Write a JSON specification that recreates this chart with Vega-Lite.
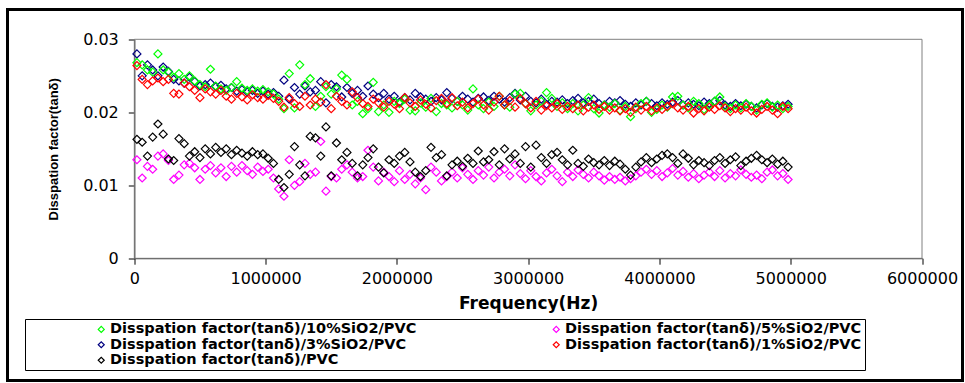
{
  "$schema": "https://vega.github.io/schema/vega-lite/v6.json",
  "width": 955,
  "height": 371,
  "autosize": {"type": "none"},
  "padding": {"left": 7.5, "top": 9.5, "right": 2.5, "bottom": 2.5},
  "background": "white",
  "config": {
    "view": {"stroke": "#000000", "strokeWidth": 3, "fill": "white"},
    "axis": {
      "zindex": 1,
      "domainColor": "#000000",
      "domainWidth": 1,
      "tickColor": "#000000",
      "tickSize": 6,
      "labelColor": "#000000",
      "labelFont": "DejaVu Sans",
      "labelFontSize": 16,
      "titleColor": "#000000",
      "grid": false
    }
  },
  "data": {
    "values": [
      {"f":20000,"s10":0.0268,"s5":0.0135,"s3":0.028,"s1":0.0264,"pvc":0.0163},
      {"f":60000,"s10":0.0265,"s5":0.011,"s3":0.025,"s1":0.0245,"pvc":0.0159},
      {"f":100000,"s10":0.0258,"s5":0.0126,"s3":0.0265,"s1":0.0238,"pvc":0.014},
      {"f":140000,"s10":0.0255,"s5":0.0122,"s3":0.0258,"s1":0.0243,"pvc":0.0166},
      {"f":180000,"s10":0.028,"s5":0.014,"s3":0.025,"s1":0.0247,"pvc":0.0184},
      {"f":220000,"s10":0.0258,"s5":0.0143,"s3":0.0262,"s1":0.0242,"pvc":0.017},
      {"f":260000,"s10":0.0255,"s5":0.0134,"s3":0.0256,"s1":0.0245,"pvc":0.0136},
      {"f":300000,"s10":0.0248,"s5":0.0108,"s3":0.0245,"s1":0.0226,"pvc":0.0134},
      {"f":340000,"s10":0.0253,"s5":0.0114,"s3":0.0243,"s1":0.0225,"pvc":0.0164},
      {"f":380000,"s10":0.0245,"s5":0.0128,"s3":0.024,"s1":0.024,"pvc":0.0157},
      {"f":420000,"s10":0.025,"s5":0.013,"s3":0.0248,"s1":0.0235,"pvc":0.014},
      {"f":460000,"s10":0.0243,"s5":0.0124,"s3":0.0242,"s1":0.023,"pvc":0.0146},
      {"f":500000,"s10":0.0238,"s5":0.0108,"s3":0.0236,"s1":0.022,"pvc":0.0138},
      {"f":540000,"s10":0.0235,"s5":0.0122,"s3":0.0238,"s1":0.0232,"pvc":0.015},
      {"f":580000,"s10":0.0259,"s5":0.0127,"s3":0.024,"s1":0.0228,"pvc":0.0143},
      {"f":620000,"s10":0.0236,"s5":0.0117,"s3":0.0235,"s1":0.0225,"pvc":0.0152},
      {"f":660000,"s10":0.0232,"s5":0.0124,"s3":0.0237,"s1":0.023,"pvc":0.0145},
      {"f":700000,"s10":0.023,"s5":0.0112,"s3":0.0232,"s1":0.0222,"pvc":0.015},
      {"f":740000,"s10":0.0234,"s5":0.0126,"s3":0.0234,"s1":0.0218,"pvc":0.0142},
      {"f":780000,"s10":0.0242,"s5":0.0118,"s3":0.0229,"s1":0.0226,"pvc":0.0148},
      {"f":820000,"s10":0.0233,"s5":0.0127,"s3":0.0231,"s1":0.0221,"pvc":0.0144},
      {"f":860000,"s10":0.023,"s5":0.012,"s3":0.0228,"s1":0.0217,"pvc":0.014},
      {"f":900000,"s10":0.0232,"s5":0.0115,"s3":0.023,"s1":0.0224,"pvc":0.0146},
      {"f":940000,"s10":0.0229,"s5":0.0125,"s3":0.0226,"s1":0.022,"pvc":0.0142},
      {"f":980000,"s10":0.0231,"s5":0.0119,"s3":0.0229,"s1":0.0218,"pvc":0.0143},
      {"f":1020000,"s10":0.0228,"s5":0.0122,"s3":0.0225,"s1":0.0223,"pvc":0.0137},
      {"f":1060000,"s10":0.0225,"s5":0.011,"s3":0.0227,"s1":0.0219,"pvc":0.013},
      {"f":1100000,"s10":0.0218,"s5":0.0095,"s3":0.0222,"s1":0.0215,"pvc":0.0108},
      {"f":1140000,"s10":0.0205,"s5":0.0085,"s3":0.0244,"s1":0.0207,"pvc":0.0097},
      {"f":1180000,"s10":0.0253,"s5":0.0135,"s3":0.0218,"s1":0.022,"pvc":0.0115},
      {"f":1220000,"s10":0.0206,"s5":0.01,"s3":0.0234,"s1":0.0212,"pvc":0.0153},
      {"f":1260000,"s10":0.0265,"s5":0.0105,"s3":0.0225,"s1":0.0208,"pvc":0.0128},
      {"f":1300000,"s10":0.0238,"s5":0.013,"s3":0.0236,"s1":0.0222,"pvc":0.0113},
      {"f":1340000,"s10":0.0246,"s5":0.0115,"s3":0.0228,"s1":0.021,"pvc":0.0167},
      {"f":1380000,"s10":0.0208,"s5":0.0118,"s3":0.023,"s1":0.0218,"pvc":0.0165},
      {"f":1420000,"s10":0.0222,"s5":0.016,"s3":0.0242,"s1":0.0214,"pvc":0.014},
      {"f":1460000,"s10":0.0235,"s5":0.0092,"s3":0.0213,"s1":0.0238,"pvc":0.018},
      {"f":1500000,"s10":0.0225,"s5":0.0112,"s3":0.0238,"s1":0.0205,"pvc":0.0113},
      {"f":1540000,"s10":0.0232,"s5":0.011,"s3":0.0235,"s1":0.0222,"pvc":0.0158},
      {"f":1580000,"s10":0.0251,"s5":0.0122,"s3":0.0221,"s1":0.0215,"pvc":0.0135},
      {"f":1620000,"s10":0.0245,"s5":0.0128,"s3":0.0234,"s1":0.021,"pvc":0.0145},
      {"f":1660000,"s10":0.021,"s5":0.0118,"s3":0.0226,"s1":0.0228,"pvc":0.013},
      {"f":1700000,"s10":0.0215,"s5":0.011,"s3":0.023,"s1":0.022,"pvc":0.0113},
      {"f":1740000,"s10":0.0198,"s5":0.0112,"s3":0.0222,"s1":0.0212,"pvc":0.0128},
      {"f":1780000,"s10":0.0205,"s5":0.0148,"s3":0.0236,"s1":0.0208,"pvc":0.0138},
      {"f":1820000,"s10":0.0241,"s5":0.0125,"s3":0.0225,"s1":0.0218,"pvc":0.015},
      {"f":1860000,"s10":0.0201,"s5":0.0106,"s3":0.022,"s1":0.0213,"pvc":0.0125},
      {"f":1900000,"s10":0.021,"s5":0.0118,"s3":0.0226,"s1":0.0207,"pvc":0.0117},
      {"f":1940000,"s10":0.02,"s5":0.0112,"s3":0.0218,"s1":0.0215,"pvc":0.0135},
      {"f":1980000,"s10":0.0215,"s5":0.0105,"s3":0.0222,"s1":0.0211,"pvc":0.013},
      {"f":2020000,"s10":0.0212,"s5":0.012,"s3":0.0214,"s1":0.0205,"pvc":0.014},
      {"f":2060000,"s10":0.0218,"s5":0.0108,"s3":0.022,"s1":0.022,"pvc":0.0145},
      {"f":2100000,"s10":0.0203,"s5":0.0115,"s3":0.0217,"s1":0.0213,"pvc":0.0132},
      {"f":2140000,"s10":0.0202,"s5":0.0102,"s3":0.0226,"s1":0.0208,"pvc":0.0118},
      {"f":2180000,"s10":0.0213,"s5":0.011,"s3":0.0221,"s1":0.0217,"pvc":0.0112},
      {"f":2220000,"s10":0.0207,"s5":0.0094,"s3":0.0218,"s1":0.0211,"pvc":0.012},
      {"f":2260000,"s10":0.0219,"s5":0.0125,"s3":0.0215,"s1":0.0206,"pvc":0.0152},
      {"f":2300000,"s10":0.0201,"s5":0.0118,"s3":0.022,"s1":0.0216,"pvc":0.0138},
      {"f":2340000,"s10":0.0212,"s5":0.0106,"s3":0.0217,"s1":0.0219,"pvc":0.0142},
      {"f":2380000,"s10":0.021,"s5":0.0112,"s3":0.0227,"s1":0.0212,"pvc":0.0113},
      {"f":2420000,"s10":0.0206,"s5":0.0118,"s3":0.0219,"s1":0.022,"pvc":0.0128},
      {"f":2460000,"s10":0.0215,"s5":0.011,"s3":0.0215,"s1":0.0209,"pvc":0.0133},
      {"f":2500000,"s10":0.021,"s5":0.0124,"s3":0.0222,"s1":0.0214,"pvc":0.0126},
      {"f":2540000,"s10":0.0203,"s5":0.0115,"s3":0.0218,"s1":0.0206,"pvc":0.0137},
      {"f":2580000,"s10":0.0232,"s5":0.0108,"s3":0.0214,"s1":0.0212,"pvc":0.013},
      {"f":2620000,"s10":0.021,"s5":0.012,"s3":0.0219,"s1":0.0218,"pvc":0.0147},
      {"f":2660000,"s10":0.0205,"s5":0.0114,"s3":0.0221,"s1":0.021,"pvc":0.0132},
      {"f":2700000,"s10":0.0214,"s5":0.0125,"s3":0.0216,"s1":0.0203,"pvc":0.0135},
      {"f":2740000,"s10":0.0208,"s5":0.011,"s3":0.0222,"s1":0.0214,"pvc":0.0146},
      {"f":2780000,"s10":0.0222,"s5":0.0118,"s3":0.0218,"s1":0.0222,"pvc":0.0128},
      {"f":2820000,"s10":0.021,"s5":0.0122,"s3":0.0214,"s1":0.021,"pvc":0.015},
      {"f":2860000,"s10":0.0207,"s5":0.0113,"s3":0.022,"s1":0.0216,"pvc":0.0136},
      {"f":2900000,"s10":0.0225,"s5":0.0128,"s3":0.0226,"s1":0.0207,"pvc":0.0143},
      {"f":2940000,"s10":0.0226,"s5":0.0116,"s3":0.0217,"s1":0.0219,"pvc":0.013},
      {"f":2980000,"s10":0.0212,"s5":0.0109,"s3":0.0222,"s1":0.0212,"pvc":0.0153},
      {"f":3020000,"s10":0.0202,"s5":0.012,"s3":0.0215,"s1":0.0206,"pvc":0.0125},
      {"f":3060000,"s10":0.021,"s5":0.0112,"s3":0.0213,"s1":0.0215,"pvc":0.0155},
      {"f":3100000,"s10":0.0215,"s5":0.0106,"s3":0.0218,"s1":0.0203,"pvc":0.0138},
      {"f":3140000,"s10":0.0227,"s5":0.0117,"s3":0.0211,"s1":0.0209,"pvc":0.013},
      {"f":3180000,"s10":0.0219,"s5":0.0122,"s3":0.0215,"s1":0.0206,"pvc":0.0142},
      {"f":3220000,"s10":0.0208,"s5":0.0113,"s3":0.0214,"s1":0.0212,"pvc":0.0145},
      {"f":3260000,"s10":0.0213,"s5":0.0105,"s3":0.0217,"s1":0.0204,"pvc":0.0135},
      {"f":3300000,"s10":0.0205,"s5":0.0118,"s3":0.0212,"s1":0.0208,"pvc":0.0128},
      {"f":3340000,"s10":0.0212,"s5":0.0112,"s3":0.0216,"s1":0.0205,"pvc":0.0148},
      {"f":3380000,"s10":0.0202,"s5":0.0121,"s3":0.0219,"s1":0.021,"pvc":0.013},
      {"f":3420000,"s10":0.021,"s5":0.0115,"s3":0.0213,"s1":0.0202,"pvc":0.0126},
      {"f":3460000,"s10":0.022,"s5":0.011,"s3":0.0215,"s1":0.0207,"pvc":0.0136},
      {"f":3500000,"s10":0.0205,"s5":0.0118,"s3":0.0218,"s1":0.021,"pvc":0.0131},
      {"f":3540000,"s10":0.0199,"s5":0.0113,"s3":0.0212,"s1":0.0204,"pvc":0.0128},
      {"f":3580000,"s10":0.021,"s5":0.0107,"s3":0.021,"s1":0.0208,"pvc":0.0134},
      {"f":3620000,"s10":0.0207,"s5":0.0112,"s3":0.0215,"s1":0.0203,"pvc":0.0127},
      {"f":3660000,"s10":0.0212,"s5":0.0108,"s3":0.0213,"s1":0.0206,"pvc":0.0133},
      {"f":3700000,"s10":0.0203,"s5":0.0111,"s3":0.0216,"s1":0.0202,"pvc":0.0129},
      {"f":3740000,"s10":0.0208,"s5":0.0106,"s3":0.0211,"s1":0.0205,"pvc":0.0122},
      {"f":3780000,"s10":0.0194,"s5":0.0109,"s3":0.0208,"s1":0.02,"pvc":0.0114},
      {"f":3820000,"s10":0.0205,"s5":0.0113,"s3":0.0213,"s1":0.0207,"pvc":0.0125},
      {"f":3860000,"s10":0.0212,"s5":0.0118,"s3":0.021,"s1":0.0203,"pvc":0.0132},
      {"f":3900000,"s10":0.0215,"s5":0.0122,"s3":0.0215,"s1":0.0208,"pvc":0.0138},
      {"f":3940000,"s10":0.02,"s5":0.0115,"s3":0.0212,"s1":0.0202,"pvc":0.0131},
      {"f":3980000,"s10":0.0204,"s5":0.012,"s3":0.0209,"s1":0.0206,"pvc":0.0136},
      {"f":4020000,"s10":0.021,"s5":0.0112,"s3":0.0213,"s1":0.0204,"pvc":0.0141},
      {"f":4060000,"s10":0.0207,"s5":0.0117,"s3":0.0211,"s1":0.0208,"pvc":0.0143},
      {"f":4100000,"s10":0.0221,"s5":0.0123,"s3":0.0214,"s1":0.0212,"pvc":0.0138},
      {"f":4140000,"s10":0.0222,"s5":0.0114,"s3":0.0216,"s1":0.0206,"pvc":0.013},
      {"f":4180000,"s10":0.021,"s5":0.0119,"s3":0.021,"s1":0.0203,"pvc":0.0143},
      {"f":4220000,"s10":0.0206,"s5":0.0111,"s3":0.0213,"s1":0.0208,"pvc":0.0137},
      {"f":4260000,"s10":0.0215,"s5":0.0116,"s3":0.0211,"s1":0.0199,"pvc":0.0128},
      {"f":4300000,"s10":0.0212,"s5":0.0109,"s3":0.0209,"s1":0.0205,"pvc":0.0134},
      {"f":4340000,"s10":0.0204,"s5":0.0114,"s3":0.0214,"s1":0.0202,"pvc":0.0131},
      {"f":4380000,"s10":0.021,"s5":0.0118,"s3":0.0212,"s1":0.0207,"pvc":0.0127},
      {"f":4420000,"s10":0.0215,"s5":0.0112,"s3":0.0215,"s1":0.0204,"pvc":0.0134},
      {"f":4460000,"s10":0.0221,"s5":0.012,"s3":0.0216,"s1":0.0209,"pvc":0.0138},
      {"f":4500000,"s10":0.0208,"s5":0.011,"s3":0.021,"s1":0.0206,"pvc":0.013},
      {"f":4540000,"s10":0.0205,"s5":0.0116,"s3":0.0208,"s1":0.0201,"pvc":0.0135},
      {"f":4580000,"s10":0.021,"s5":0.0113,"s3":0.0212,"s1":0.0205,"pvc":0.0139},
      {"f":4620000,"s10":0.0206,"s5":0.0121,"s3":0.0209,"s1":0.0203,"pvc":0.0127},
      {"f":4660000,"s10":0.0212,"s5":0.0115,"s3":0.0211,"s1":0.0207,"pvc":0.0133},
      {"f":4700000,"s10":0.0208,"s5":0.0111,"s3":0.0208,"s1":0.0202,"pvc":0.0137},
      {"f":4740000,"s10":0.0203,"s5":0.0114,"s3":0.0206,"s1":0.0199,"pvc":0.0141},
      {"f":4780000,"s10":0.0211,"s5":0.0109,"s3":0.021,"s1":0.0204,"pvc":0.0135},
      {"f":4820000,"s10":0.0213,"s5":0.0118,"s3":0.0212,"s1":0.0208,"pvc":0.0131},
      {"f":4860000,"s10":0.0207,"s5":0.0121,"s3":0.0208,"s1":0.0203,"pvc":0.0136},
      {"f":4900000,"s10":0.021,"s5":0.0113,"s3":0.0207,"s1":0.0198,"pvc":0.0129},
      {"f":4940000,"s10":0.0205,"s5":0.0116,"s3":0.0209,"s1":0.0208,"pvc":0.0133},
      {"f":4980000,"s10":0.0208,"s5":0.0108,"s3":0.0211,"s1":0.0205,"pvc":0.0125}
    ]
  },
  "resolve": {"axis": {"x": "independent", "y": "independent"}},
  "layer": [
    {
      "data": {"values": [{}]},
      "mark": {"type": "rect", "fillOpacity": 0, "stroke": "#808080", "strokeWidth": 1},
      "encoding": {
        "x": {"datum": 0, "type": "quantitative", "scale": {"domain": [0, 6000000], "range": [126.8, 914.5], "nice": false, "zero": false}, "axis": null},
        "x2": {"datum": 6000000},
        "y": {"datum": 0, "type": "quantitative", "scale": {"domain": [0, 0.03], "range": [248.8, 29.8], "nice": false, "zero": false}, "axis": null},
        "y2": {"datum": 0.03}
      }
    },
    {
      "transform": [
        {"fold": ["s10", "s5", "s3", "s1", "pvc"], "as": ["key", "v"]}
      ],
      "mark": {"type": "point", "shape": "diamond", "filled": false, "size": 64, "strokeWidth": 1.2, "opacity": 1},
      "encoding": {
        "x": {
          "field": "f",
          "type": "quantitative",
          "scale": {"domain": [0, 6000000], "range": [126.8, 914.5], "nice": false, "zero": false},
          "axis": {
            "orient": "bottom",
            "offset": -122.3,
            "values": [0, 1000000, 2000000, 3000000, 4000000, 5000000, 6000000],
            "format": "d",
            "labelPadding": 6.5,
            "labelFlush": false,
            "labelOverlap": false,
            "title": "Frequency(Hz)",
            "titleFont": "DejaVu Sans",
            "titleFontWeight": "bold",
            "titleFontSize": 17,
            "titlePadding": 9
          }
        },
        "y": {
          "field": "v",
          "type": "quantitative",
          "scale": {"domain": [0, 0.03], "range": [248.8, 29.8], "nice": false, "zero": false},
          "axis": {
            "orient": "left",
            "offset": -126.8,
            "values": [0, 0.01, 0.02, 0.03],
            "format": ".2~f",
            "labelPadding": 10,
            "labelFlush": false,
            "title": "Disspation factor(tanδ)",
            "titleFont": "Liberation Sans",
            "titleFontWeight": "bold",
            "titleFontSize": 13,
            "titlePadding": 22
          }
        },
        "color": {
          "field": "key",
          "type": "nominal",
          "scale": {
            "domain": ["s10", "s3", "pvc", "s5", "s1"],
            "range": ["#00ff00", "#000080", "#000000", "#ff00ff", "#ff0000"]
          },
          "legend": {
            "orient": "none",
            "legendX": 17.5,
            "legendY": 309.5,
            "columns": 2,
            "title": null,
            "labelExpr": "'Disspation factor(tanδ)/' + {'s10': '10%SiO2/PVC', 's5': '5%SiO2/PVC', 's3': '3%SiO2/PVC', 's1': '1%SiO2/PVC', 'pvc': 'PVC'}[datum.label]",
            "labelFont": "DejaVu Sans",
            "labelFontWeight": "bold",
            "labelFontSize": 14.5,
            "labelColor": "#000000",
            "labelLimit": 0,
            "symbolType": "diamond",
            "symbolSize": 36,
            "symbolStrokeWidth": 1.2,
            "strokeColor": "#000000",
            "padding": 3,
            "rowPadding": 0.5,
            "columnPadding": 66,
            "symbolOffset": 66,
            "labelOffset": 1.5
          }
        },
        "order": {"field": "key", "sort": "descending"}
      }
    }
  ]
}
